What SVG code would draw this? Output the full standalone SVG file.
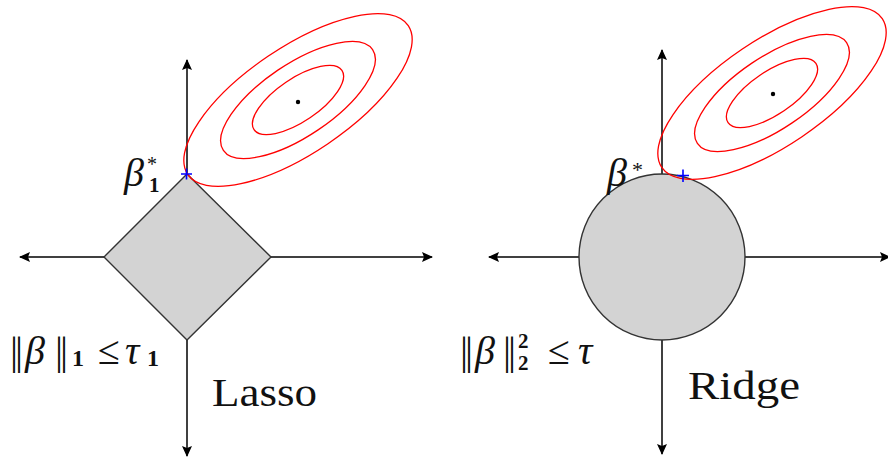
<svg xmlns="http://www.w3.org/2000/svg" width="888" height="459" viewBox="0 0 888 459">
<style>
.axis{stroke:#000;stroke-width:1.5;fill:none;marker-end:url(#ah)}
.region{fill:#d3d3d3;stroke:#333;stroke-width:1.4}
.contour{fill:none;stroke:#f00;stroke-width:1.3}
.opt{stroke:#00f;stroke-width:1.6;fill:none}
.m{font-family:"Liberation Serif",serif;font-style:italic;fill:#111}
.r{font-family:"Liberation Serif",serif;fill:#111}
.b{font-family:"Liberation Serif",serif;font-weight:bold;fill:#111}
.bar{font-family:"Liberation Serif",serif;fill:#111;letter-spacing:-3px}
.lbl{font-family:"Liberation Serif",serif;font-size:40px;fill:#111}
</style>
<defs>
<marker id="ah" markerWidth="12" markerHeight="10" refX="10" refY="5" orient="auto" markerUnits="userSpaceOnUse">
<path d="M0,0 L11,5 L0,10 L2,5 Z" fill="#000"/>
</marker>
<g id="contours">
<ellipse class="contour" rx="133" ry="53"/>
<ellipse class="contour" rx="90" ry="36"/>
<ellipse class="contour" rx="53" ry="21.5"/>
</g>
</defs>
<g id="connectors">
<line class="axis" x1="187" y1="257" x2="187" y2="60"/>
<line class="axis" x1="187" y1="257" x2="187" y2="456"/>
<line class="axis" x1="187" y1="257" x2="20" y2="257"/>
<line class="axis" x1="187" y1="257" x2="432" y2="257"/>
<line class="axis" x1="662" y1="257" x2="662" y2="50"/>
<line class="axis" x1="662" y1="257" x2="662" y2="454"/>
<line class="axis" x1="662" y1="257" x2="489" y2="257"/>
<line class="axis" x1="662" y1="257" x2="890" y2="257"/>
</g>
<g id="lasso-region">
<polygon class="region" points="187,174 271,257 187,340 104,257"/>
</g>
<g id="ridge-region">
<circle class="region" cx="662" cy="257" r="83"/>
</g>
<g id="lasso-contours">
<use href="#contours" transform="translate(298,100) rotate(-34)"/>
<circle cx="298" cy="102" r="2.2" fill="#000"/>
</g>
<g id="ridge-contours">
<use href="#contours" transform="translate(772,93) rotate(-34)"/>
<circle cx="773" cy="94" r="2.2" fill="#000"/>
</g>
<g id="lasso-opt">
<path class="opt" d="M181,174 H192 M186.5,168.5 V179.5"/>
</g>
<g id="ridge-opt">
<path class="opt" d="M677,175.5 H689 M683,169.5 V182"/>
</g>
<g id="lasso-beta-label">
<text x="124" y="186" class="m" font-size="40">β</text>
<text x="147" y="171" class="r" font-size="20">*</text>
<text x="149" y="192" class="b" font-size="21">1</text>
</g>
<g id="ridge-beta-label">
<text x="607" y="186" class="m" font-size="40">β</text>
<text x="632" y="177" class="r" font-size="22">*</text>
</g>
<g id="lasso-constraint">
<text y="364" font-size="40"><tspan x="10" class="bar">||</tspan><tspan x="25" class="m">β</tspan><tspan x="55" class="bar">||</tspan><tspan x="72" y="366" class="b" font-size="24">1</tspan><tspan x="98" y="364" class="r">≤</tspan><tspan x="125" class="m">τ</tspan><tspan x="147" y="366" class="b" font-size="24">1</tspan></text>
</g>
<g id="ridge-constraint">
<text y="364" font-size="40"><tspan x="460" class="bar">||</tspan><tspan x="475" class="m">β</tspan><tspan x="503" class="bar">||</tspan><tspan x="518" y="348" class="b" font-size="21">2</tspan></text>
<text x="518" y="370" class="b" font-size="21">2</text>
<text y="364" font-size="40"><tspan x="548" class="r">≤</tspan><tspan x="578" class="m">τ</tspan></text>
</g>
<g id="lasso-title">
<text x="212" y="406" class="lbl" textLength="105" lengthAdjust="spacingAndGlyphs">Lasso</text>
</g>
<g id="ridge-title">
<text x="688" y="399" class="lbl" textLength="112" lengthAdjust="spacingAndGlyphs">Ridge</text>
</g>
</svg>
